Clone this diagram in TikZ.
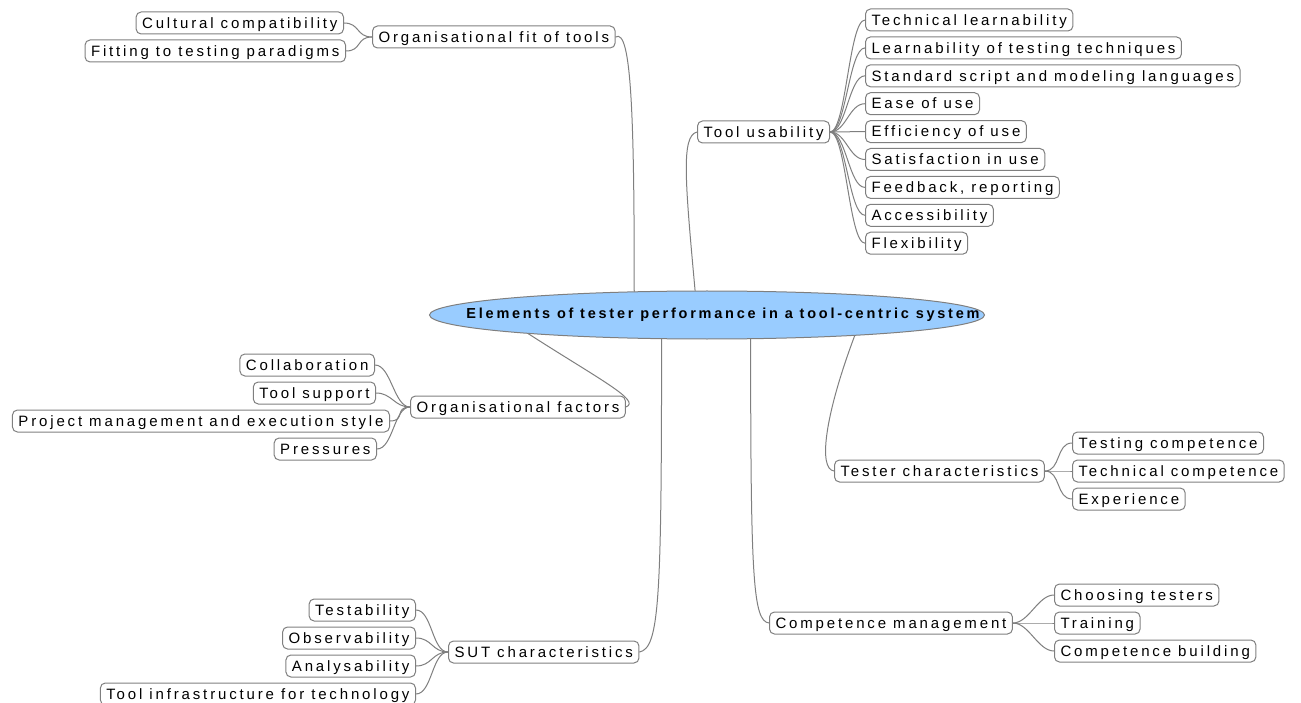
\documentclass[tikz,border=0pt]{standalone}
\usepackage{fontspec}
\setmainfont{Liberation Sans}[LetterSpace=19]
\usetikzlibrary{shapes.geometric}
\definecolor{gris}{HTML}{7F7F7F}
\definecolor{celeste}{HTML}{99CCFF}

\begin{document}
\begin{tikzpicture}[x=1pt,y=-1pt,line cap=round,
    hoja/.style={draw=gris,line width=1pt,rounded corners=5pt,
                 font=\fontsize{15}{17}\selectfont,minimum height=22pt,
                 inner xsep=6pt,inner ysep=0pt,text height=12pt,text depth=1.5pt},
    rama/.style={gris,line width=1pt},
    centro/.style={ellipse,draw=gris,line width=1pt,fill=celeste,
                   minimum width=555pt,minimum height=48pt,inner sep=0pt,
                   font=\fontsize{14.5}{17}\selectfont\bfseries}]
  \useasboundingbox (0,0) rectangle (1301,703);

  \node[centro] (hub) at (707,315)
        {\makebox[0pt]{\hspace*{32pt}Elements of tester performance in a tool-centric system}};

  \node[hoja,anchor=west] (fit) at (372,37) {Organisational fit of tools};
  \node[hoja,anchor=east] (cultura) at (344,23) {Cultural compatibility};
  \node[hoja,anchor=east] (paradigma) at (346,51) {Fitting to testing paradigms};
  \draw[rama] (hub.162) .. controls +(0,-170) and +(16,-10) .. (fit.east);
  \foreach \hijo in {cultura,paradigma}
    \draw[rama] (fit.west) .. controls +(-16,0) and +(16,0) .. (\hijo.east);

  \node[hoja,anchor=west] (uso) at (697,132) {Tool usability};
  \draw[rama] (hub.116) .. controls +(-10,-110) and +(-16,4) .. (uso.west);
  \foreach \texto [count=\i] in {Technical learnability,
      Learnability of testing techniques,Standard script and modeling languages,
      Ease of use,Efficiency of use,Satisfaction in use,{Feedback, reporting},
      Accessibility,Flexibility}{
    \node[hoja,anchor=west] (uso\i) at (865,{20+27.9*(\i-1)}) {\texto};
    \draw[rama] (uso.east) .. controls +(16,0) and +(-16,0) .. (uso\i.west);
  }

  \node[hoja,anchor=west] (org) at (410,407) {Organisational factors};
  \draw[rama] (hub.186) .. controls +(70,45) and +(16,-6) .. (org.east);
  \node[hoja,anchor=east] (colab) at (375,365) {Collaboration};
  \node[hoja,anchor=east] (soporte) at (376,393) {Tool support};
  \node[hoja,anchor=east] (proyecto) at (390,421) {Project management and execution style};
  \node[hoja,anchor=east] (presion) at (377,449) {Pressures};
  \foreach \hijo in {colab,soporte,proyecto,presion}
    \draw[rama] (org.west) .. controls +(-16,0) and +(16,0) .. (\hijo.east);

  \node[hoja,anchor=west] (tester) at (834,471) {Tester characteristics};
  \draw[rama] (hub.352) .. controls +(-30,80) and +(-16,-2) .. (tester.west);
  \node[hoja,anchor=west] (compet) at (1072,443) {Testing competence};
  \node[hoja,anchor=west] (tecnica) at (1072,471) {Technical competence};
  \node[hoja,anchor=west] (experiencia) at (1072,499) {Experience};
  \foreach \hijo in {compet,tecnica,experiencia}
    \draw[rama] (tester.east) .. controls +(16,0) and +(-16,0) .. (\hijo.west);

  \node[hoja,anchor=west] (gestion) at (769,623) {Competence management};
  \draw[rama] (hub.331) .. controls +(0,240) and +(-16,-2) .. (gestion.west);
  \node[hoja,anchor=west] (eleccion) at (1054,595) {Choosing testers};
  \node[hoja,anchor=west] (formacion) at (1054,623) {Training};
  \node[hoja,anchor=west] (construccion) at (1054,651) {Competence building};
  \foreach \hijo in {eleccion,formacion,construccion}
    \draw[rama] (gestion.east) .. controls +(16,0) and +(-16,0) .. (\hijo.west);

  \node[hoja,anchor=west] (sut) at (448,652) {SUT characteristics};
  \draw[rama] (hub.208) .. controls +(0,260) and +(20,-4) .. (sut.east);
  \node[hoja,anchor=east] (testab) at (416,610) {Testability};
  \node[hoja,anchor=east] (observ) at (416,638) {Observability};
  \node[hoja,anchor=east] (analis) at (416,666) {Analysability};
  \node[hoja,anchor=east] (infra) at (416,694) {Tool infrastructure for technology};
  \foreach \hijo in {testab,observ,analis,infra}
    \draw[rama] (sut.west) .. controls +(-16,0) and +(16,0) .. (\hijo.east);
\end{tikzpicture}
\end{document}
